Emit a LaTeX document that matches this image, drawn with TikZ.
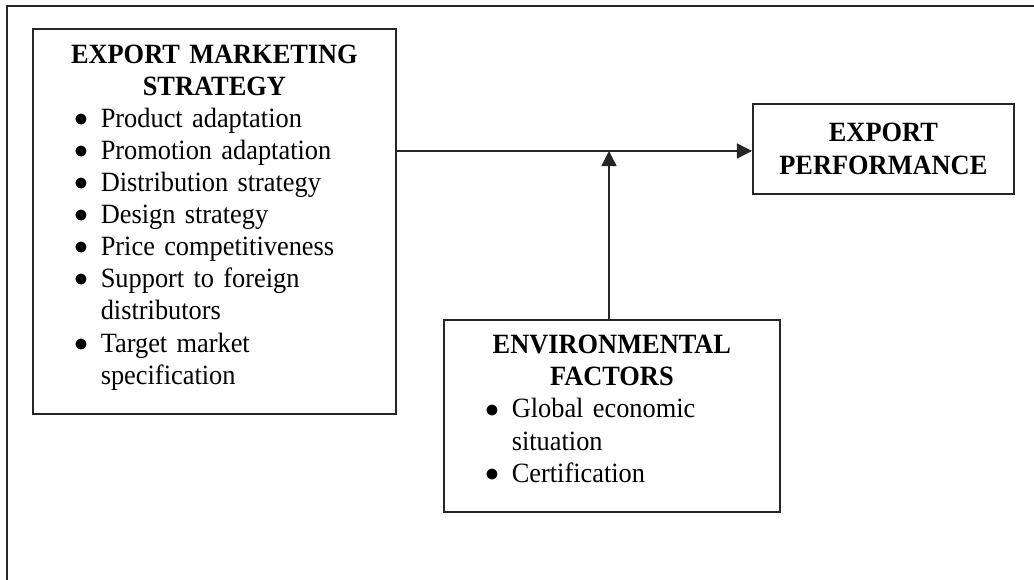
\documentclass[tikz,border=0pt]{standalone}
\usepackage{fontspec}
\setmainfont[FakeStretch=0.945]{Liberation Serif}
\usepackage{enumitem}
\usetikzlibrary{arrows.meta, positioning}
\newcommand{\bigbullet}{\raisebox{0.4pt}{\fontsize{11.8}{11.8}\selectfont$\bullet$}}
\setlist[itemize]{label=\bigbullet, leftmargin=29.2pt, labelsep=5.5pt, itemsep=0pt, topsep=0pt, parsep=0pt, partopsep=0pt}

\begin{document}
\begin{tikzpicture}[x=0.43pt, y=-0.43pt, >={Triangle[length=6.5pt,width=6.5pt]},
		box/.style={draw=black!85, line width=0.75pt, inner sep=0pt},
		txt/.style={inner sep=0pt, align=left, font=\fontsize{12}{13.8}\selectfont},
		link/.style={draw=black!85, line width=0.55pt}]
		
		\useasboundingbox (0,0) rectangle (1034,580);
		
		% --- Moldura externa (cortada)
		\draw[black!85, line width=0.85pt] (1034,6) -- (7,6) -- (7,580);
		
		% --- Estrategia de marketing (caixa a esquerda)
		\node[box, minimum width=156.1pt, minimum height=165.55pt, anchor=north west] (mkt) at (32,28) {};
		\node[txt, text width=156.1pt, anchor=north, yshift=-5.3pt] (mkttext) at (mkt.north) {%
			{\centering\strut\textbf{EXPORT MARKETING\\ STRATEGY}\par}
			\begin{itemize}
				\item Product adaptation
				\item Promotion adaptation
				\item Distribution strategy
				\item Design strategy
				\item Price competitiveness
				\item Support to foreign\newline distributors
				\item Target market\newline specification
		\end{itemize}};
		
		% --- Desempenho (caixa a direita)
		\node[box, txt, align=center, font=\fontsize{12}{13.8}\selectfont\bfseries, minimum width=112.2pt, minimum height=38.7pt, anchor=north west] (perf) at (752,103) {EXPORT\\ PERFORMANCE};
		
		% --- Fatores ambientais (caixa de baixo)
		\node[box, minimum width=144.5pt, minimum height=82.6pt, anchor=north west] (env) at (443,319) {};
		\node[txt, text width=144.5pt, anchor=north, yshift=-5.1pt] (envtext) at (env.north) {%
			{\centering\strut\textbf{ENVIRONMENTAL\\ FACTORS}\par}
			\begin{itemize}
				\item Global economic\newline situation
				\item Certification
		\end{itemize}};
		
		% --- Setas
		\coordinate (join) at (609,151);
		\draw[link, ->] (mkt.east |- join) -- (perf.west |- join);
		\draw[link, ->] (env.north -| join) -- (join);
		
	\end{tikzpicture}
\end{document}
